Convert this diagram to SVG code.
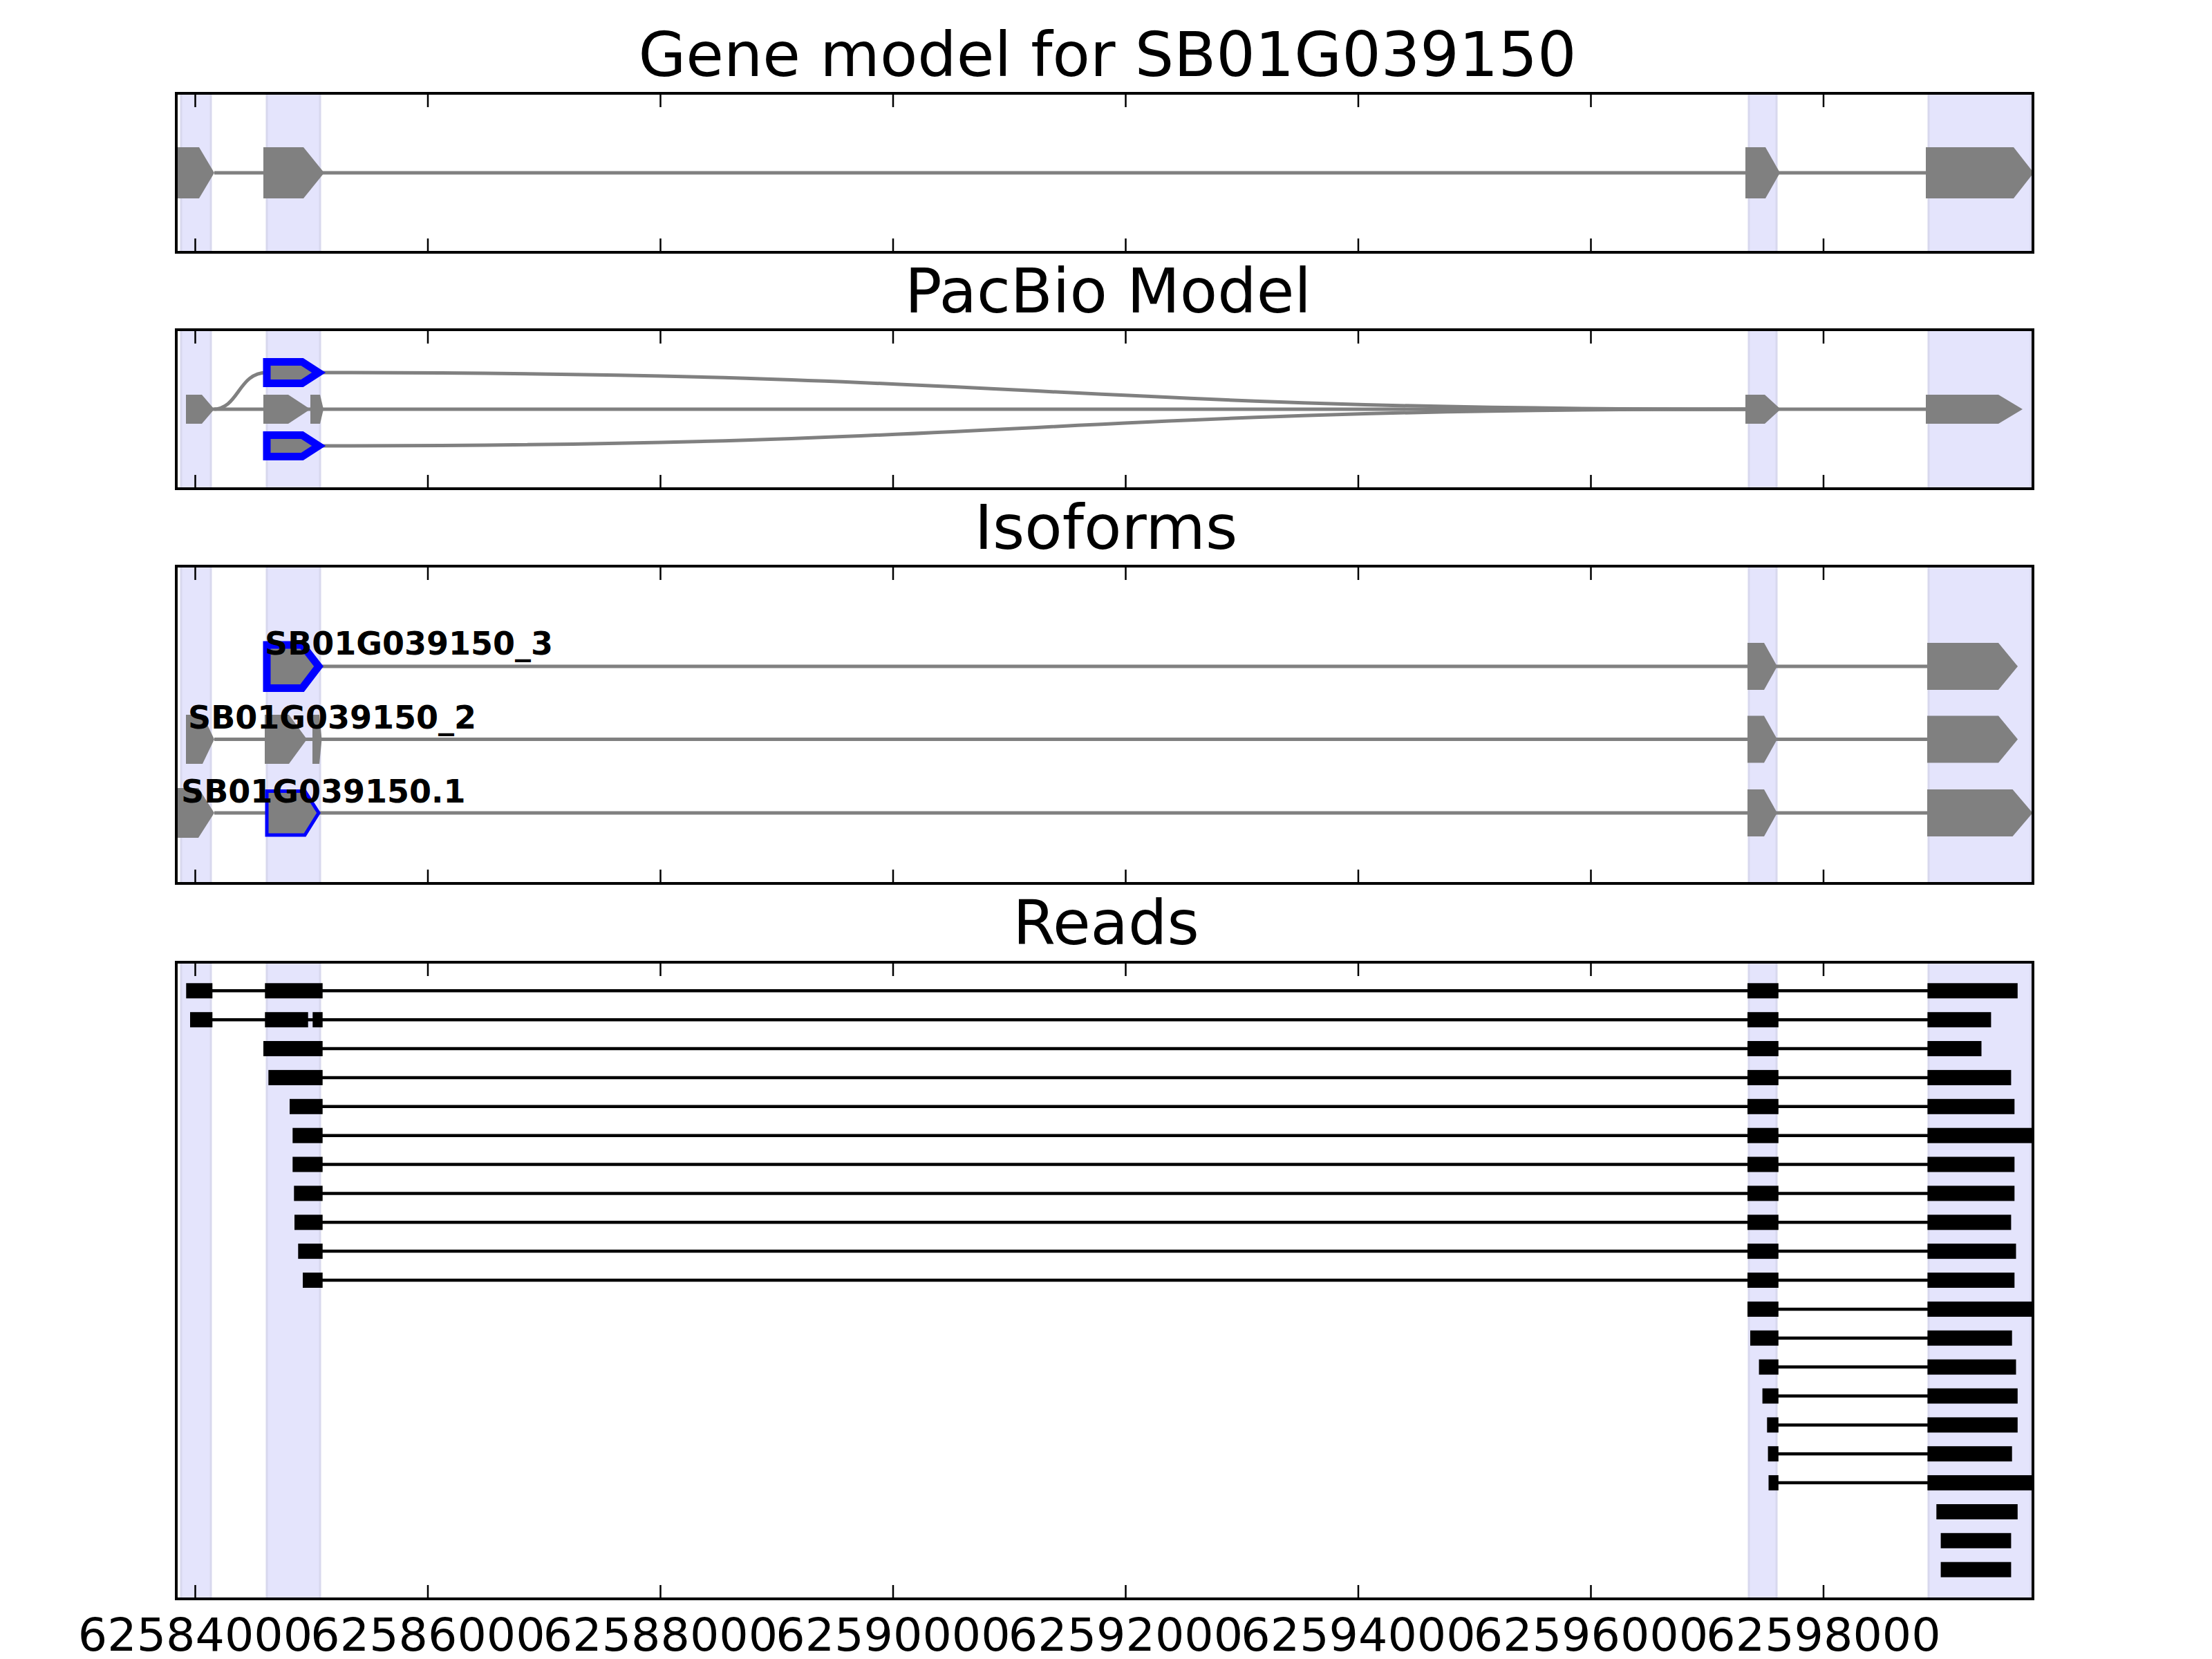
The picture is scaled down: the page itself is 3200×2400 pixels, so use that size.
<svg xmlns="http://www.w3.org/2000/svg" width="3200" height="2400" viewBox="0 0 3200 2400">
<defs>
<style>
.bg{fill:#ffffff}
.shade{fill:#e4e4fc;stroke:#d8d8ee;stroke-width:3}
.frame{fill:none;stroke:#000;stroke-width:4}
.tick{stroke:#000;stroke-width:2.5}
.title{font-family:"DejaVu Sans","Liberation Sans",sans-serif;font-size:88.9px;text-anchor:middle;fill:#000}
.tl{font-family:"DejaVu Sans","Liberation Sans",sans-serif;font-size:66.7px;text-anchor:middle;fill:#000}
.lab{font-family:"DejaVu Sans","Liberation Sans",sans-serif;font-size:46px;font-weight:bold;fill:#000}
.ex{fill:#808080;stroke:none}
.exb{fill:#808080;stroke:#0000ff;stroke-width:11;stroke-linejoin:miter}
.exb2{fill:#808080;stroke:#0000ff;stroke-width:5;stroke-linejoin:miter}
.intr{fill:none;stroke:#808080;stroke-width:5}
.rd{fill:#000}
.rl{stroke:#000;stroke-width:4.5}
</style>
<g id="ticks">
<path class="tick" d="M282.5,0v20M619,0v20M955.5,0v20M1292,0v20M1628.5,0v20M1965,0v20M2301.5,0v20M2638,0v20"/>
</g>
</defs>
<rect class="bg" x="0" y="0" width="3200" height="2400"/>

<!-- Panel 1: Gene model -->
<g id="panel-gene-model">
<text class="title" x="1602" y="110">Gene model for SB01G039150</text>
<rect class="shade" x="262" y="135" width="43" height="230"/>
<rect class="shade" x="386" y="135" width="77" height="230"/>
<rect class="shade" x="2530" y="135" width="40" height="230"/>
<rect class="shade" x="2790" y="135" width="148" height="230"/>
<g id="gm-connectors"><line class="intr" x1="310" y1="250" x2="2786" y2="250"/></g>
<g id="gm-exon1"><path class="ex" d="M255,213H288L310,250L288,287H255Z"/></g>
<g id="gm-exon2"><path class="ex" d="M381,213H439L469,250L439,287H381Z"/></g>
<g id="gm-exon3"><path class="ex" d="M2525,213H2554L2575,250L2554,287H2525Z"/></g>
<g id="gm-exon4"><path class="ex" d="M2786,213H2913L2942,250L2913,287H2786Z"/></g>
<use href="#ticks" x="0" y="135"/>
<use href="#ticks" transform="translate(0,365) scale(1,-1)"/>
<rect class="frame" x="255" y="135" width="2686" height="230"/>
</g>

<!-- Panel 2: PacBio Model -->
<g id="panel-pacbio">
<text class="title" x="1603" y="452">PacBio Model</text>
<rect class="shade" x="262" y="477" width="43" height="230"/>
<rect class="shade" x="386" y="477" width="77" height="230"/>
<rect class="shade" x="2530" y="477" width="40" height="230"/>
<rect class="shade" x="2790" y="477" width="148" height="230"/>
<g id="pb-connectors">
<line class="intr" x1="310" y1="592" x2="2786" y2="592"/>
<path class="intr" d="M308,592C346,592 344,539 386,539"/>
<path class="intr" d="M461,539C1499,539 1499,592 2525,592"/>
<path class="intr" d="M461,645C1499,645 1499,592 2525,592"/>
</g>
<g id="pb-a"><path class="ex" d="M269,571H292L310,592L292,613H269Z"/></g>
<g id="pb-b"><path class="ex" d="M381,571H417L449,592L417,613H381Z"/></g>
<g id="pb-c"><path class="ex" d="M449,571H463L468,592L463,613H449Z"/></g>
<g id="pb-d"><path class="ex" d="M2525,571H2553L2576,592L2553,613H2525Z"/></g>
<g id="pb-e"><path class="ex" d="M2786,571H2891L2926,592L2891,613H2786Z"/></g>
<g id="pb-top"><path class="exb" d="M386,523.5H437L461,539L437,554.5H386Z"/></g>
<g id="pb-bottom"><path class="exb" d="M386,629.5H437L461,645L437,660.5H386Z"/></g>
<use href="#ticks" x="0" y="477"/>
<use href="#ticks" transform="translate(0,707) scale(1,-1)"/>
<rect class="frame" x="255" y="477" width="2686" height="230"/>
</g>

<!-- Panel 3: Isoforms -->
<g id="panel-isoforms">
<text class="title" x="1600" y="794">Isoforms</text>
<rect class="shade" x="262" y="819" width="43" height="459"/>
<rect class="shade" x="386" y="819" width="77" height="459"/>
<rect class="shade" x="2530" y="819" width="40" height="459"/>
<rect class="shade" x="2790" y="819" width="148" height="459"/>
<g id="iso-connectors">
<line class="intr" x1="461" y1="964" x2="2788" y2="964"/>
<line class="intr" x1="310" y1="1069.5" x2="2788" y2="1069.5"/>
<line class="intr" x1="310" y1="1176" x2="2788" y2="1176"/>
</g>
<g id="iso-3">
<path class="exb" d="M386,933H437L461,964L437,995.5H386Z"/>
<path class="ex" d="M2528,930H2552L2571,964L2552,998H2528Z"/>
<path class="ex" d="M2788,930H2891L2919,964L2891,998H2788Z"/>
<text class="lab" x="383" y="947">SB01G039150_3</text>
</g>
<g id="iso-2">
<path class="ex" d="M269,1034H293L310,1069.5L293,1105H269Z"/>
<path class="ex" d="M383,1034H418L444,1069.5L418,1105H383Z"/>
<path class="ex" d="M452,1034H462L465.5,1069.5L462,1105H452Z"/>
<path class="ex" d="M2528,1035.5H2552L2571,1069.5L2552,1103.5H2528Z"/>
<path class="ex" d="M2788,1035.5H2891L2919,1069.5L2891,1103.5H2788Z"/>
<text class="lab" x="272" y="1054">SB01G039150_2</text>
</g>
<g id="iso-1">
<path class="ex" d="M255,1140H287L310,1176L287,1212H255Z"/>
<path class="exb2" d="M386,1144.5H441L461,1176L441,1208H386Z"/>
<path class="ex" d="M2528,1142H2552L2571,1176L2552,1210H2528Z"/>
<path class="ex" d="M2788,1142H2911.5L2940.5,1176L2911.5,1210H2788Z"/>
<text class="lab" x="262" y="1161">SB01G039150.1</text>
</g>
<use href="#ticks" x="0" y="819"/>
<use href="#ticks" transform="translate(0,1278) scale(1,-1)"/>
<rect class="frame" x="255" y="819" width="2686" height="459"/>
</g>

<!-- Panel 4: Reads -->
<g id="panel-reads">
<text class="title" x="1600" y="1366">Reads</text>
<rect class="shade" x="262" y="1392" width="43" height="921"/>
<rect class="shade" x="386" y="1392" width="77" height="921"/>
<rect class="shade" x="2530" y="1392" width="40" height="921"/>
<rect class="shade" x="2790" y="1392" width="148" height="921"/>
<g id="read-connectors">
<line class="rl" x1="307" y1="1433.3" x2="2789" y2="1433.3"/>
<line class="rl" x1="307" y1="1475.2" x2="2789" y2="1475.2"/>
<line class="rl" x1="466" y1="1517.0" x2="2789" y2="1517.0"/>
<line class="rl" x1="466" y1="1558.9" x2="2789" y2="1558.9"/>
<line class="rl" x1="466" y1="1600.8" x2="2789" y2="1600.8"/>
<line class="rl" x1="466" y1="1642.7" x2="2789" y2="1642.7"/>
<line class="rl" x1="466" y1="1684.5" x2="2789" y2="1684.5"/>
<line class="rl" x1="466" y1="1726.4" x2="2789" y2="1726.4"/>
<line class="rl" x1="466" y1="1768.3" x2="2789" y2="1768.3"/>
<line class="rl" x1="466" y1="1810.1" x2="2789" y2="1810.1"/>
<line class="rl" x1="466" y1="1852.0" x2="2789" y2="1852.0"/>
<line class="rl" x1="2572" y1="1893.9" x2="2789" y2="1893.9"/>
<line class="rl" x1="2572" y1="1935.7" x2="2789" y2="1935.7"/>
<line class="rl" x1="2572" y1="1977.6" x2="2789" y2="1977.6"/>
<line class="rl" x1="2572" y1="2019.5" x2="2789" y2="2019.5"/>
<line class="rl" x1="2572" y1="2061.4" x2="2789" y2="2061.4"/>
<line class="rl" x1="2572" y1="2103.2" x2="2789" y2="2103.2"/>
<line class="rl" x1="2572" y1="2145.1" x2="2789" y2="2145.1"/>
</g>
<g id="read-0"><rect class="rd" x="269.3" y="1422.3" width="38" height="22"/><rect class="rd" x="383.3" y="1422.3" width="83.4" height="22"/><rect class="rd" x="2528" y="1422.3" width="44.8" height="22"/><rect class="rd" x="2788.4" y="1422.3" width="130.4" height="22"/></g>
<g id="read-1"><rect class="rd" x="275" y="1464.2" width="32.3" height="22"/><rect class="rd" x="383.3" y="1464.2" width="62.4" height="22"/><rect class="rd" x="452.3" y="1464.2" width="14.4" height="22"/><rect class="rd" x="2528" y="1464.2" width="44.8" height="22"/><rect class="rd" x="2788.4" y="1464.2" width="92" height="22"/></g>
<g id="read-2"><rect class="rd" x="381" y="1506" width="85.7" height="22"/><rect class="rd" x="2528" y="1506" width="44.8" height="22"/><rect class="rd" x="2788.4" y="1506" width="78.1" height="22"/></g>
<g id="read-3"><rect class="rd" x="388.3" y="1547.9" width="78.4" height="22"/><rect class="rd" x="2528" y="1547.9" width="44.8" height="22"/><rect class="rd" x="2788.4" y="1547.9" width="121" height="22"/></g>
<g id="read-4"><rect class="rd" x="419" y="1589.8" width="47.7" height="22"/><rect class="rd" x="2528" y="1589.8" width="44.8" height="22"/><rect class="rd" x="2788.4" y="1589.8" width="125.9" height="22"/></g>
<g id="read-5"><rect class="rd" x="423.3" y="1631.7" width="43.4" height="22"/><rect class="rd" x="2528" y="1631.7" width="44.8" height="22"/><rect class="rd" x="2788.4" y="1631.7" width="154.6" height="22"/></g>
<g id="read-6"><rect class="rd" x="423.3" y="1673.5" width="43.4" height="22"/><rect class="rd" x="2528" y="1673.5" width="44.8" height="22"/><rect class="rd" x="2788.4" y="1673.5" width="125.9" height="22"/></g>
<g id="read-7"><rect class="rd" x="425.3" y="1715.4" width="41.4" height="22"/><rect class="rd" x="2528" y="1715.4" width="44.8" height="22"/><rect class="rd" x="2788.4" y="1715.4" width="125.9" height="22"/></g>
<g id="read-8"><rect class="rd" x="426" y="1757.3" width="40.7" height="22"/><rect class="rd" x="2528" y="1757.3" width="44.8" height="22"/><rect class="rd" x="2788.4" y="1757.3" width="121" height="22"/></g>
<g id="read-9"><rect class="rd" x="431.3" y="1799.1" width="35.4" height="22"/><rect class="rd" x="2528" y="1799.1" width="44.8" height="22"/><rect class="rd" x="2788.4" y="1799.1" width="128.1" height="22"/></g>
<g id="read-10"><rect class="rd" x="438" y="1841" width="28.7" height="22"/><rect class="rd" x="2528" y="1841" width="44.8" height="22"/><rect class="rd" x="2788.4" y="1841" width="125.9" height="22"/></g>
<g id="read-11"><rect class="rd" x="2528" y="1882.9" width="44.8" height="22"/><rect class="rd" x="2788.4" y="1882.9" width="154.6" height="22"/></g>
<g id="read-12"><rect class="rd" x="2532" y="1924.7" width="40.8" height="22"/><rect class="rd" x="2788.4" y="1924.7" width="122.3" height="22"/></g>
<g id="read-13"><rect class="rd" x="2544.6" y="1966.6" width="28.2" height="22"/><rect class="rd" x="2788.4" y="1966.6" width="128.1" height="22"/></g>
<g id="read-14"><rect class="rd" x="2549.6" y="2008.5" width="23.2" height="22"/><rect class="rd" x="2788.4" y="2008.5" width="130.4" height="22"/></g>
<g id="read-15"><rect class="rd" x="2556.3" y="2050.4" width="16.5" height="22"/><rect class="rd" x="2788.4" y="2050.4" width="130.4" height="22"/></g>
<g id="read-16"><rect class="rd" x="2557.6" y="2092.2" width="15.2" height="22"/><rect class="rd" x="2788.4" y="2092.2" width="122.3" height="22"/></g>
<g id="read-17"><rect class="rd" x="2558.5" y="2134.1" width="14.3" height="22"/><rect class="rd" x="2788.4" y="2134.1" width="154.6" height="22"/></g>
<g id="read-18"><rect class="rd" x="2801.3" y="2176" width="117.5" height="22"/></g>
<g id="read-19"><rect class="rd" x="2807.6" y="2217.8" width="101.8" height="22"/></g>
<g id="read-20"><rect class="rd" x="2807.6" y="2259.7" width="101.8" height="22"/></g>
<use href="#ticks" x="0" y="1392"/>
<use href="#ticks" transform="translate(0,2313) scale(1,-1)"/>
<rect class="frame" x="255" y="1392" width="2686" height="921"/>
</g>

<!-- x axis labels -->
<g id="x-axis-labels">
<text class="tl" x="282.5" y="2388">62584000</text>
<text class="tl" x="619" y="2388">62586000</text>
<text class="tl" x="955.5" y="2388">62588000</text>
<text class="tl" x="1292" y="2388">62590000</text>
<text class="tl" x="1628.5" y="2388">62592000</text>
<text class="tl" x="1965" y="2388">62594000</text>
<text class="tl" x="2301.5" y="2388">62596000</text>
<text class="tl" x="2638" y="2388">62598000</text>
</g>
</svg>
